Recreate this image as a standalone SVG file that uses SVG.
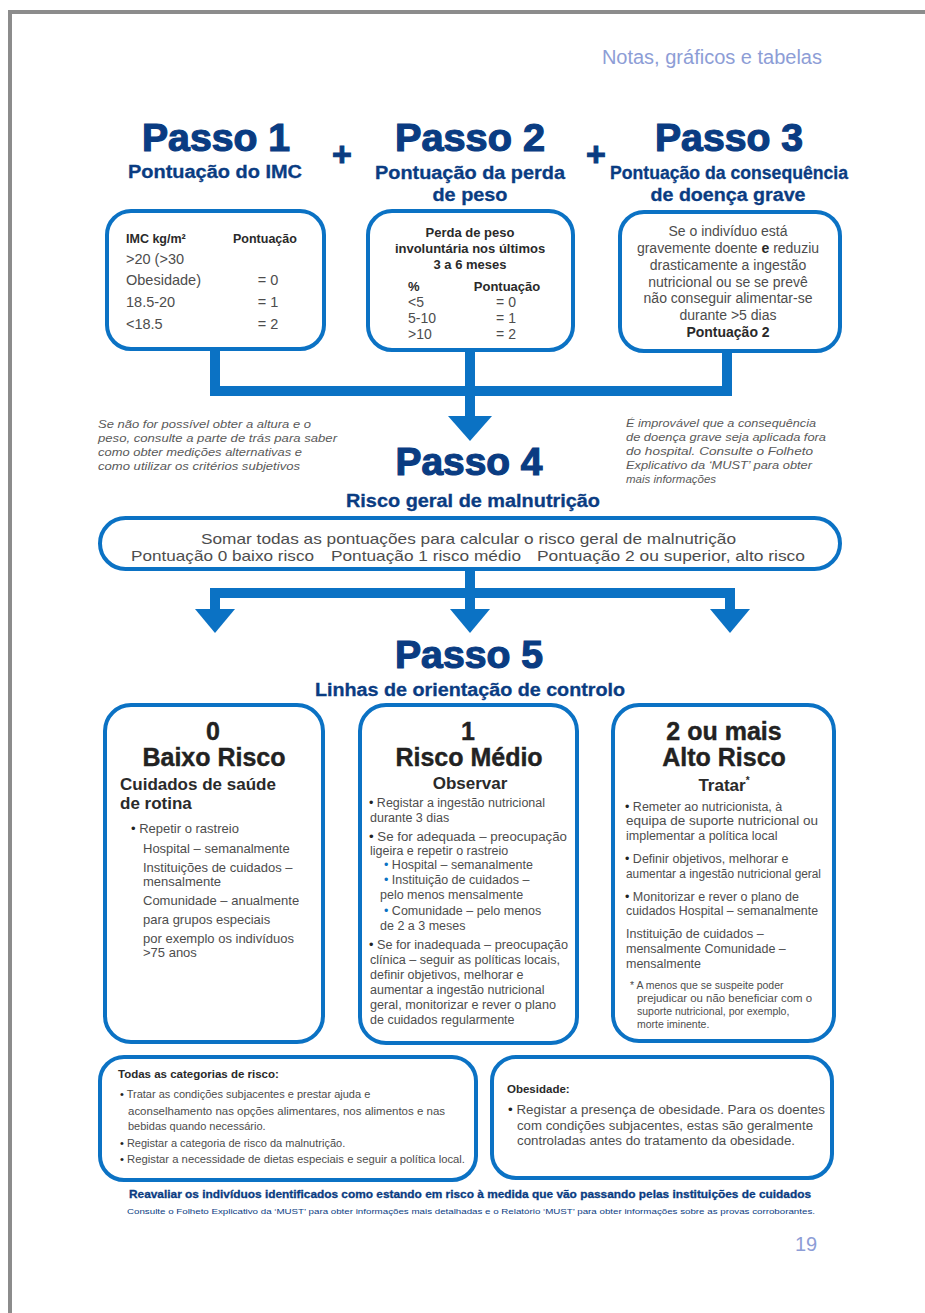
<svg xmlns="http://www.w3.org/2000/svg" width="925" height="1313" viewBox="0 0 925 1313">
<style>
.box{fill:#fff;stroke:#0b72c4;stroke-width:4}
.con{fill:none;stroke:#0b72c4;stroke-width:10;stroke-linejoin:miter}
.arr{fill:#0b72c4}
.step{font-family:"Liberation Sans",Arial,sans-serif;font-weight:bold;font-size:38px;fill:#0a3c82;stroke:#0a3c82;stroke-width:1.2;text-anchor:middle}
.sub{font-family:"Liberation Sans",Arial,sans-serif;font-weight:bold;font-size:18px;fill:#0a3c82;stroke:#0a3c82;stroke-width:0.3;text-anchor:middle}
.t{font-family:"Liberation Sans",Arial,sans-serif;fill:#4d4d4d}
.b{font-weight:bold;fill:#2a2a2a}
.c{text-anchor:middle}
.note{font-family:"Liberation Sans",Arial,sans-serif;font-style:italic;font-size:11.5px;fill:#5a5a5a}
.big{font-family:"Liberation Sans",Arial,sans-serif;font-weight:bold;font-size:25px;fill:#222;stroke:#222;stroke-width:0.4;text-anchor:middle}
.mid{font-family:"Liberation Sans",Arial,sans-serif;font-weight:bold;font-size:17px;fill:#2a2a2a}
</style>
<rect width="925" height="1313" fill="#fff"/>
<path d="M10,1313 V12 H925" fill="none" stroke="#8c8c8c" stroke-width="4"/>
<text x="822" y="64" font-family="Liberation Sans,Arial,sans-serif" font-size="20" fill="#8d9dd6" text-anchor="end">Notas, gráficos e tabelas</text>

<g id="connectors">
<path class="con" d="M215,349 V391 H727 V350"/>
<path class="con" d="M470,349 V420"/>
<polygon class="arr" points="448,416 492,416 470,441"/>
<path class="con" d="M470,569 V593"/>
<path class="con" d="M215,612 V593 H730 V612"/>
<path class="con" d="M470,593 V612"/>
<polygon class="arr" points="195,609 235,609 215,633"/>
<polygon class="arr" points="450,609 490,609 470,633"/>
<polygon class="arr" points="710,609 750,609 730,633"/>
<text x="342" y="166" font-family="Liberation Sans,Arial,sans-serif" font-weight="bold" font-size="34" fill="#0a3c82" stroke="#0a3c82" stroke-width="1" text-anchor="middle">+</text>
<text x="596" y="166" font-family="Liberation Sans,Arial,sans-serif" font-weight="bold" font-size="34" fill="#0a3c82" stroke="#0a3c82" stroke-width="1" text-anchor="middle">+</text>
</g>

<g id="passo1">
<text class="step" x="216" y="151" textLength="148" lengthAdjust="spacingAndGlyphs">Passo 1</text>
<text class="sub" x="215" y="178" textLength="174" lengthAdjust="spacingAndGlyphs">Pontuação do IMC</text>
<rect class="box" x="107" y="211" width="217" height="138" rx="24"/>
<text class="t b" x="126" y="243" font-size="12.5">IMC kg/m²</text>
<text class="t b" x="233" y="243" font-size="12.5">Pontuação</text>
<text class="t" x="126" y="264" font-size="14.5">&gt;20 (&gt;30</text>
<text class="t" x="126" y="285" font-size="14.5">Obesidade)</text>
<text class="t" x="126" y="307" font-size="14.5">18.5-20</text>
<text class="t" x="126" y="329" font-size="14.5">&lt;18.5</text>
<text class="t c" x="268" y="285" font-size="14.5">= 0</text>
<text class="t c" x="268" y="307" font-size="14.5">= 1</text>
<text class="t c" x="268" y="329" font-size="14.5">= 2</text>
</g>

<g id="passo2">
<text class="step" x="470" y="151" textLength="150" lengthAdjust="spacingAndGlyphs">Passo 2</text>
<text class="sub" x="470" y="179" textLength="190" lengthAdjust="spacingAndGlyphs">Pontuação da perda</text>
<text class="sub" x="470" y="201" textLength="75" lengthAdjust="spacingAndGlyphs">de peso</text>
<rect class="box" x="368" y="211" width="205" height="139" rx="24"/>
<text class="t b c" x="470" y="237" font-size="13">Perda de peso</text>
<text class="t b c" x="470" y="253" font-size="13">involuntária nos últimos</text>
<text class="t b c" x="470" y="269" font-size="13">3 a 6 meses</text>
<text class="t b" x="408" y="291" font-size="13">%</text>
<text class="t b c" x="507" y="291" font-size="13">Pontuação</text>
<text class="t" x="408" y="307" font-size="14">&lt;5</text>
<text class="t" x="408" y="323" font-size="14">5-10</text>
<text class="t" x="408" y="339" font-size="14">&gt;10</text>
<text class="t c" x="506" y="307" font-size="14">= 0</text>
<text class="t c" x="506" y="323" font-size="14">= 1</text>
<text class="t c" x="506" y="339" font-size="14">= 2</text>
</g>

<g id="passo3">
<text class="step" x="729" y="151" textLength="148" lengthAdjust="spacingAndGlyphs">Passo 3</text>
<text class="sub" x="729" y="179" textLength="238" lengthAdjust="spacingAndGlyphs">Pontuação da consequência</text>
<text class="sub" x="728" y="201" textLength="155" lengthAdjust="spacingAndGlyphs">de doença grave</text>
<rect class="box" x="620" y="212" width="220" height="139" rx="24"/>
<g class="t c" font-size="14">
<text x="728" y="236">Se o indivíduo está</text>
<text x="728" y="253">gravemente doente <tspan font-weight="bold" fill="#2a2a2a">e</tspan> reduziu</text>
<text x="728" y="270">drasticamente a ingestão</text>
<text x="728" y="287">nutricional ou se se prevê</text>
<text x="728" y="303">não conseguir alimentar-se</text>
<text x="728" y="320">durante &gt;5 dias</text>
<text x="728" y="337" font-weight="bold" fill="#2a2a2a">Pontuação 2</text>
</g>
</g>

<g id="note-left" class="note">
<text x="98" y="428" textLength="213" lengthAdjust="spacingAndGlyphs">Se não for possível obter a altura e o</text>
<text x="98" y="442" textLength="239" lengthAdjust="spacingAndGlyphs">peso, consulte a parte de trás para saber</text>
<text x="98" y="456" textLength="204" lengthAdjust="spacingAndGlyphs">como obter medições alternativas e</text>
<text x="98" y="470" textLength="202" lengthAdjust="spacingAndGlyphs">como utilizar os critérios subjetivos</text>
</g>
<g id="note-right" class="note">
<text x="626" y="427" textLength="190" lengthAdjust="spacingAndGlyphs">É improvável que a consequência</text>
<text x="626" y="441" textLength="200" lengthAdjust="spacingAndGlyphs">de doença grave seja aplicada fora</text>
<text x="626" y="455" textLength="187" lengthAdjust="spacingAndGlyphs">do hospital. Consulte o Folheto</text>
<text x="626" y="469" textLength="186" lengthAdjust="spacingAndGlyphs">Explicativo da ‘MUST’ para obter</text>
<text x="626" y="483">mais informações</text>
</g>

<g id="passo4">
<text class="step" x="469" y="475" textLength="147" lengthAdjust="spacingAndGlyphs">Passo 4</text>
<text class="sub" x="473" y="507" textLength="254" lengthAdjust="spacingAndGlyphs">Risco geral de malnutrição</text>
<rect class="box" x="100" y="518" width="740" height="51" rx="25.5"/>
<text class="t" x="201" y="544" font-size="15" textLength="535" lengthAdjust="spacingAndGlyphs">Somar todas as pontuações para calcular o risco geral de malnutrição</text>
<text class="t" x="131" y="561" font-size="15" textLength="183" lengthAdjust="spacingAndGlyphs">Pontuação 0 baixo risco</text>
<text class="t" x="331" y="561" font-size="15" textLength="190" lengthAdjust="spacingAndGlyphs">Pontuação 1 risco médio</text>
<text class="t" x="537" y="561" font-size="15" textLength="268" lengthAdjust="spacingAndGlyphs">Pontuação 2 ou superior, alto risco</text>
</g>

<g id="passo5">
<text class="step" x="469" y="668" textLength="148" lengthAdjust="spacingAndGlyphs">Passo 5</text>
<text class="sub" x="470" y="696" textLength="310" lengthAdjust="spacingAndGlyphs">Linhas de orientação de controlo</text>
</g>

<g id="baixo-risco">
<rect class="box" x="105" y="705" width="218" height="337" rx="26"/>
<text class="big" x="213" y="740">0</text>
<text class="big" x="214" y="766">Baixo Risco</text>
<text class="mid" x="120" y="790">Cuidados de saúde</text>
<text class="mid" x="120" y="809">de rotina</text>
<g class="t" font-size="13">
<text x="131" y="833"><tspan fill="#222">•</tspan> Repetir o rastreio</text>
<text x="143" y="853">Hospital – semanalmente</text>
<text x="143" y="872">Instituições de cuidados –</text>
<text x="143" y="886">mensalmente</text>
<text x="143" y="905">Comunidade – anualmente</text>
<text x="143" y="924">para grupos especiais</text>
<text x="143" y="943">por exemplo os indivíduos</text>
<text x="143" y="957">&gt;75 anos</text>
</g>
</g>

<g id="risco-medio">
<rect class="box" x="360" y="705" width="217" height="338" rx="26"/>
<text class="big" x="468" y="740">1</text>
<text class="big" x="469" y="766">Risco Médio</text>
<text class="mid" x="470" y="789" text-anchor="middle">Observar</text>
<g class="t" font-size="12.5">
<text x="369" y="807"><tspan fill="#222">•</tspan> Registar a ingestão nutricional</text>
<text x="370" y="822">durante 3 dias</text>
<text x="369" y="841" textLength="198" lengthAdjust="spacingAndGlyphs"><tspan fill="#222">•</tspan> Se for adequada – preocupação</text>
<text x="370" y="855">ligeira e repetir o rastreio</text>
<text x="384" y="869"><tspan fill="#0b72c4">•</tspan> Hospital – semanalmente</text>
<text x="384" y="884"><tspan fill="#0b72c4">•</tspan> Instituição de cuidados –</text>
<text x="380" y="899">pelo menos mensalmente</text>
<text x="384" y="915"><tspan fill="#0b72c4">•</tspan> Comunidade – pelo menos</text>
<text x="380" y="930">de 2 a 3 meses</text>
<text x="369" y="949" textLength="199" lengthAdjust="spacingAndGlyphs"><tspan fill="#222">•</tspan> Se for inadequada – preocupação</text>
<text x="370" y="964" textLength="190" lengthAdjust="spacingAndGlyphs">clínica – seguir as políticas locais,</text>
<text x="370" y="979">definir objetivos, melhorar e</text>
<text x="370" y="994">aumentar a ingestão nutricional</text>
<text x="370" y="1009" textLength="186" lengthAdjust="spacingAndGlyphs">geral, monitorizar e rever o plano</text>
<text x="370" y="1024">de cuidados regularmente</text>
</g>
</g>

<g id="alto-risco">
<rect class="box" x="613" y="705" width="221" height="336" rx="26"/>
<text class="big" x="724" y="740">2 ou mais</text>
<text class="big" x="724" y="766">Alto Risco</text>
<text class="mid" x="724" y="791" text-anchor="middle">Tratar<tspan font-size="10" dy="-7">*</tspan></text>
<g class="t" font-size="12.5">
<text x="625" y="811"><tspan fill="#222">•</tspan> Remeter ao nutricionista, à</text>
<text x="626" y="825" textLength="192" lengthAdjust="spacingAndGlyphs">equipa de suporte nutricional ou</text>
<text x="626" y="840">implementar a política local</text>
<text x="625" y="863"><tspan fill="#222">•</tspan> Definir objetivos, melhorar e</text>
<text x="626" y="878" textLength="195" lengthAdjust="spacingAndGlyphs">aumentar a ingestão nutricional geral</text>
<text x="625" y="901"><tspan fill="#222">•</tspan> Monitorizar e rever o plano de</text>
<text x="626" y="915" textLength="192" lengthAdjust="spacingAndGlyphs">cuidados Hospital – semanalmente</text>
<text x="626" y="938">Instituição de cuidados –</text>
<text x="626" y="953">mensalmente Comunidade –</text>
<text x="626" y="968">mensalmente</text>
</g>
<g class="t" font-size="10.5">
<text x="630" y="989">* A menos que se suspeite poder</text>
<text x="637" y="1002" textLength="175" lengthAdjust="spacingAndGlyphs">prejudicar ou não beneficiar com o</text>
<text x="637" y="1015">suporte nutricional, por exemplo,</text>
<text x="637" y="1028">morte iminente.</text>
</g>
</g>

<g id="todas-categorias">
<rect class="box" x="100" y="1057" width="376" height="123" rx="24"/>
<text class="t b" x="118" y="1078" font-size="11.5">Todas as categorias de risco:</text>
<g class="t" font-size="11">
<text x="120" y="1098"><tspan fill="#222">•</tspan> Tratar as condições subjacentes e prestar ajuda e</text>
<text x="128" y="1115" textLength="317" lengthAdjust="spacingAndGlyphs">aconselhamento nas opções alimentares, nos alimentos e nas</text>
<text x="128" y="1130">bebidas quando necessário.</text>
<text x="120" y="1147"><tspan fill="#222">•</tspan> Registar a categoria de risco da malnutrição.</text>
<text x="120" y="1163" textLength="345" lengthAdjust="spacingAndGlyphs"><tspan fill="#222">•</tspan> Registar a necessidade de dietas especiais e seguir a política local.</text>
</g>
</g>

<g id="obesidade">
<rect class="box" x="492" y="1057" width="340" height="121" rx="24"/>
<text class="t b" x="507" y="1093" font-size="11.5">Obesidade:</text>
<g class="t" font-size="12">
<text x="508" y="1114" textLength="317" lengthAdjust="spacingAndGlyphs"><tspan fill="#222">•</tspan> Registar a presença de obesidade. Para os doentes</text>
<text x="517" y="1130" textLength="296" lengthAdjust="spacingAndGlyphs">com condições subjacentes, estas são geralmente</text>
<text x="517" y="1145" textLength="278" lengthAdjust="spacingAndGlyphs">controladas antes do tratamento da obesidade.</text>
</g>
</g>

<g id="footer">
<text x="470" y="1198" font-family="Liberation Sans,Arial,sans-serif" font-weight="bold" font-size="11" fill="#0a3c82" stroke="#0a3c82" stroke-width="0.3" text-anchor="middle" textLength="682" lengthAdjust="spacingAndGlyphs">Reavaliar os indivíduos identificados como estando em risco à medida que vão passando pelas instituições de cuidados</text>
<text x="471" y="1214" font-family="Liberation Sans,Arial,sans-serif" font-size="8" fill="#0a3c82" text-anchor="middle" textLength="688" lengthAdjust="spacingAndGlyphs">Consulte o Folheto Explicativo da ‘MUST’ para obter informações mais detalhadas e o Relatório ‘MUST’ para obter informações sobre as provas corroborantes.</text>
<text x="806" y="1251" font-family="Liberation Sans,Arial,sans-serif" font-size="20" fill="#8d9dd6" text-anchor="middle">19</text>
</g>
</svg>
